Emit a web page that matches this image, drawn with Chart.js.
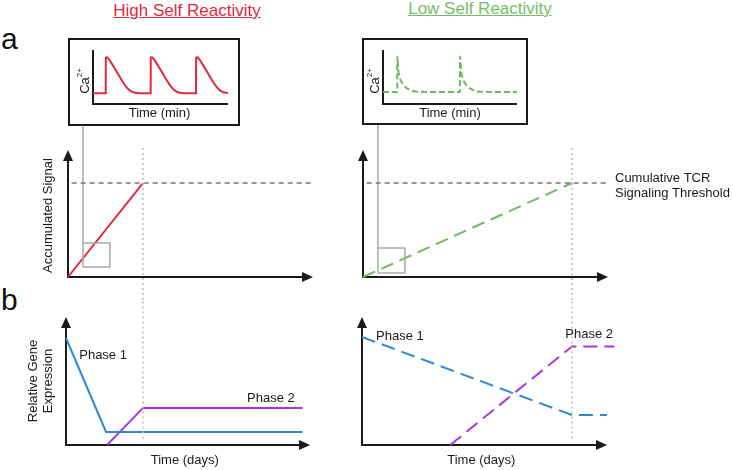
<!DOCTYPE html>
<html>
<head>
<meta charset="utf-8">
<script src="https://cdn.jsdelivr.net/npm/chart.js@4.4.1/dist/chart.umd.min.js"></script>
<style>
body { margin:0; width:733px; height:470px; background:#fff; position:relative; overflow:hidden; font-family:"Liberation Sans", Arial, sans-serif; }
canvas, .txt { position:absolute; }
.title { font-size:17px; line-height:17px; text-decoration:underline; text-align:center; width:220px; }
.letter { font-size:30px; line-height:30px; color:#111; }
</style>
</head>
<body>
<div class="txt title" style="left:77px;top:2px;color:#e4283c">High Self Reactivity</div>
<div class="txt title" style="left:370px;top:0px;color:#78bb66">Low Self Reactivity</div>
<div class="txt letter" style="left:1px;top:24px">a</div>
<div class="txt letter" style="left:1px;top:285px">b</div>
<canvas id="insetHigh"></canvas>
<canvas id="insetLow"></canvas>
<canvas id="signalHigh"></canvas>
<canvas id="signalLow"></canvas>
<canvas id="geneHigh"></canvas>
<canvas id="geneLow"></canvas>
<script>
// Ca2+ traces (inset, arbitrary units 0-10)
var highCaTime = [0, 0.94, 0.95, 1.01, 1.38, 1.75, 2.12, 2.49, 2.86, 3.36,
                  4.27, 4.28, 4.34, 4.71, 5.08, 5.45, 5.82, 6.19, 6.69,
                  7.63, 7.64, 7.70, 8.07, 8.44, 8.81, 9.18, 9.55, 10.0];
var highCaLevel = [2.0, 2.0, 8.6, 8.65, 7.53, 6.0, 4.44, 3.09, 2.28, 2.0,
                   2.0, 8.6, 8.65, 7.53, 6.0, 4.44, 3.09, 2.28, 2.0,
                   2.0, 8.6, 8.65, 7.53, 6.0, 4.44, 3.09, 2.28, 2.05];
var lowCaTime = [0, 1.06, 1.07, 1.14, 1.27, 1.44, 1.64, 2.01, 2.51,
                 5.74, 5.75, 5.82, 5.95, 6.12, 6.32, 6.69, 7.19, 10.0];
var lowCaLevel = [2.2, 2.2, 8.8, 6.3, 4.75, 3.83, 3.2, 2.6, 2.28,
                  2.2, 8.8, 6.3, 4.75, 3.83, 3.2, 2.6, 2.28, 2.2];

// accumulated signal
var thresholdLevel = 7.4;
var thresholdSpan = [0.15, 10.05];
var highSignalTime = [0, 3.06];
var highSignalValue = [0, 7.4];
var lowSignalTime = [0, 8.53];
var lowSignalValue = [0, 7.4];
var zoomBoxHigh = { x: [0.61, 1.71], y: [0.79, 2.68], top: 11.9 };
var zoomBoxLow = { x: [0.61, 1.71], y: [0.31, 2.28], top: 11.97 };

// relative gene expression
var phase1HighTime = [0, 1.64, 9.7];
var phase1HighExpr = [8.36, 1.02, 1.02];
var phase2HighTime = [1.68, 3.16, 9.7];
var phase2HighExpr = [0, 2.9, 2.9];
var phase1LowTime = [0, 8.57, 10.0];
var phase1LowExpr = [8.44, 2.34, 2.34];
var phase2LowTime = [3.6, 8.57, 10.3];
var phase2LowExpr = [0, 7.7, 7.7];

var RED = '#e4283c', GREEN = '#72b85e', BLUE = '#2e88d6', PURPLE = '#a735e3';
var AXIS = '#1a1a1a', FONT = '"Liberation Sans", Arial, sans-serif';

function pts(xs, ys) {
    return xs.map(function (x, i) { return { x: x, y: ys[i] }; });
}

function line(xs, ys, color, width, dash, smooth) {
    return {
        data: pts(xs, ys),
        borderColor: color,
        borderWidth: width,
        borderDash: dash || [],
        pointRadius: 0,
        fill: false,
        tension: 0,
        cubicInterpolationMode: smooth ? 'monotone' : 'default',
        borderCapStyle: 'butt',
        clip: false
    };
}

function boxLines(b) {
    return [
        line([b.x[0], b.x[0]], [b.top, b.y[1]], '#aaa', 1.5),
        line([b.x[0], b.x[1], b.x[1], b.x[0], b.x[0]], [b.y[0], b.y[0], b.y[1], b.y[1], b.y[0]], '#aaa', 1.5)
    ];
}

function text(ctx, str, x, y, size, align, rot) {
    ctx.save();
    ctx.translate(x, y);
    if (rot) ctx.rotate(-Math.PI / 2);
    ctx.font = size + 'px ' + FONT;
    ctx.fillStyle = '#1a1a1a';
    ctx.textAlign = align || 'center';
    ctx.textBaseline = 'middle';
    ctx.fillText(str, 0, 0);
    ctx.restore();
}

function caLabel(ctx, x, y) {
    ctx.save();
    ctx.translate(x, y);
    ctx.rotate(-Math.PI / 2);
    ctx.fillStyle = '#1a1a1a';
    ctx.textBaseline = 'middle';
    ctx.font = '13px ' + FONT;
    var w1 = ctx.measureText('Ca').width;
    ctx.font = '8px ' + FONT;
    var w2 = ctx.measureText('2+').width;
    ctx.font = '13px ' + FONT;
    ctx.fillText('Ca', -(w1 + w2) / 2, 0);
    ctx.font = '8px ' + FONT;
    ctx.fillText('2+', -(w1 + w2) / 2 + w1, -5);
    ctx.restore();
}

function makePanel(cfg) {
    var c = document.getElementById(cfg.id);
    var cv = cfg.canvas, ar = cfg.area;
    c.style.left = cv[0] + 'px';
    c.style.top = cv[1] + 'px';
    c.style.width = cv[2] + 'px';
    c.style.height = cv[3] + 'px';
    c.width = cv[2];
    c.height = cv[3];
    var deco = {
        id: 'deco',
        beforeDatasetsDraw: function (chart) {
            var ctx = chart.ctx, a = chart.chartArea;
            var head = cfg.arrows ? 10 : 0;
            ctx.save();
            ctx.strokeStyle = AXIS;
            ctx.fillStyle = AXIS;
            ctx.lineWidth = 2;
            if (cfg.box) ctx.strokeRect(1, 1, chart.width - 2, chart.height - 2);
            ctx.beginPath();
            ctx.moveTo(a.left, a.top + head);
            ctx.lineTo(a.left, a.bottom);
            ctx.lineTo(a.right - head, a.bottom);
            ctx.stroke();
            if (cfg.arrows) {
                ctx.beginPath();
                ctx.moveTo(a.left, a.top);
                ctx.lineTo(a.left - 5, a.top + 11);
                ctx.lineTo(a.left + 5, a.top + 11);
                ctx.closePath();
                ctx.fill();
                ctx.beginPath();
                ctx.moveTo(a.right, a.bottom);
                ctx.lineTo(a.right - 11, a.bottom - 5);
                ctx.lineTo(a.right - 11, a.bottom + 5);
                ctx.closePath();
                ctx.fill();
            }
            ctx.restore();
        },
        afterDatasetsDraw: function (chart) {
            var X = chart.scales.x, Y = chart.scales.y;
            cfg.draw(chart.ctx, function (v) { return X.getPixelForValue(v); },
                     function (v) { return Y.getPixelForValue(v); }, chart.chartArea);
        }
    };
    return new Chart(c.getContext('2d'), {
        type: 'line',
        data: { datasets: cfg.datasets },
        plugins: [deco],
        options: {
            responsive: false,
            animation: false,
            events: [],
            layout: {
                padding: {
                    left: ar[0] - cv[0],
                    top: ar[1] - cv[1],
                    right: cv[0] + cv[2] - ar[0] - ar[2],
                    bottom: cv[1] + cv[3] - ar[1] - ar[3]
                }
            },
            scales: {
                x: { type: 'linear', min: 0, max: 10, display: false },
                y: { type: 'linear', min: 0, max: 10, display: false }
            },
            plugins: { legend: { display: false }, tooltip: { enabled: false } }
        }
    });
}

// insets
makePanel({
    id: 'insetHigh', canvas: [68, 38, 172, 88], area: [93, 50, 135, 54], box: true,
    datasets: [line(highCaTime, highCaLevel, RED, 2, null, true)],
    draw: function (ctx, X, Y, a) {
        text(ctx, 'Time (min)', (a.left + a.right) / 2 - 1, a.bottom + 9, 13);
        caLabel(ctx, a.left - 8, (a.top + a.bottom) / 2 + 4);
    }
});
makePanel({
    id: 'insetLow', canvas: [362, 38, 166, 87], area: [383, 50, 134, 54], box: true,
    datasets: [line(lowCaTime, lowCaLevel, GREEN, 2, [6, 3], true)],
    draw: function (ctx, X, Y, a) {
        text(ctx, 'Time (min)', (a.left + a.right) / 2, a.bottom + 9, 13);
        caLabel(ctx, a.left - 8, (a.top + a.bottom) / 2 + 4);
    }
});

// accumulated signal
makePanel({
    id: 'signalHigh', canvas: [0, 124, 355, 176], area: [68, 150, 245, 127], arrows: true,
    datasets: [
        line(thresholdSpan, [thresholdLevel, thresholdLevel], '#777', 1.5, [5, 4]),
        line([highSignalTime[1], highSignalTime[1]], [10.16, -3], '#bbb', 1.5, [2, 3])
    ].concat(boxLines(zoomBoxHigh), [line(highSignalTime, highSignalValue, RED, 2)]),
    draw: function (ctx, X, Y, a) {
        text(ctx, 'Accumulated Signal', a.left - 20, (a.top + a.bottom) / 2 + 2, 13, 'center', true);
    }
});
makePanel({
    id: 'signalLow', canvas: [355, 124, 378, 176], area: [363, 150, 245, 127], arrows: true,
    datasets: [
        line(thresholdSpan, [thresholdLevel, thresholdLevel], '#777', 1.5, [5, 4]),
        line([lowSignalTime[1], lowSignalTime[1]], [10.16, -3], '#bbb', 1.5, [2, 3])
    ].concat(boxLines(zoomBoxLow), [line(lowSignalTime, lowSignalValue, GREEN, 2, [13, 7])]),
    draw: function (ctx, X, Y, a) {
        text(ctx, 'Cumulative TCR', a.right + 7, Y(thresholdLevel) - 5, 13, 'left');
        text(ctx, 'Signaling Threshold', a.right + 7, Y(thresholdLevel) + 10, 13, 'left');
    }
});

// gene expression
makePanel({
    id: 'geneHigh', canvas: [0, 300, 355, 170], area: [66, 317, 244, 128], arrows: true,
    datasets: [
        line([phase2HighTime[1], phase2HighTime[1]], [12, 0.3], '#bbb', 1.5, [2, 3]),
        line(phase1HighTime, phase1HighExpr, BLUE, 2),
        line(phase2HighTime, phase2HighExpr, PURPLE, 2)
    ],
    draw: function (ctx, X, Y, a) {
        text(ctx, 'Phase 1', X(1.52), Y(7.0), 13);
        text(ctx, 'Phase 2', X(8.4), Y(3.67), 13);
        text(ctx, 'Time (days)', X(4.87), a.bottom + 15, 13);
        text(ctx, 'Relative Gene', a.left - 33, (a.top + a.bottom) / 2, 13, 'center', true);
        text(ctx, 'Expression', a.left - 18, (a.top + a.bottom) / 2, 13, 'center', true);
    }
});
makePanel({
    id: 'geneLow', canvas: [355, 300, 378, 170], area: [362, 317, 245, 128], arrows: true,
    datasets: [
        line([phase1LowTime[1], phase1LowTime[1]], [12, 0.3], '#bbb', 1.5, [2, 3]),
        line(phase1LowTime, phase1LowExpr, BLUE, 2, [14, 7]),
        line(phase2LowTime, phase2LowExpr, PURPLE, 2, [14, 7])
    ],
    draw: function (ctx, X, Y, a) {
        text(ctx, 'Phase 1', X(1.55), Y(8.5), 13);
        text(ctx, 'Phase 2', X(9.27), Y(8.6), 13);
        text(ctx, 'Time (days)', X(4.87), a.bottom + 15, 13);
    }
});
</script>
</body>
</html>
